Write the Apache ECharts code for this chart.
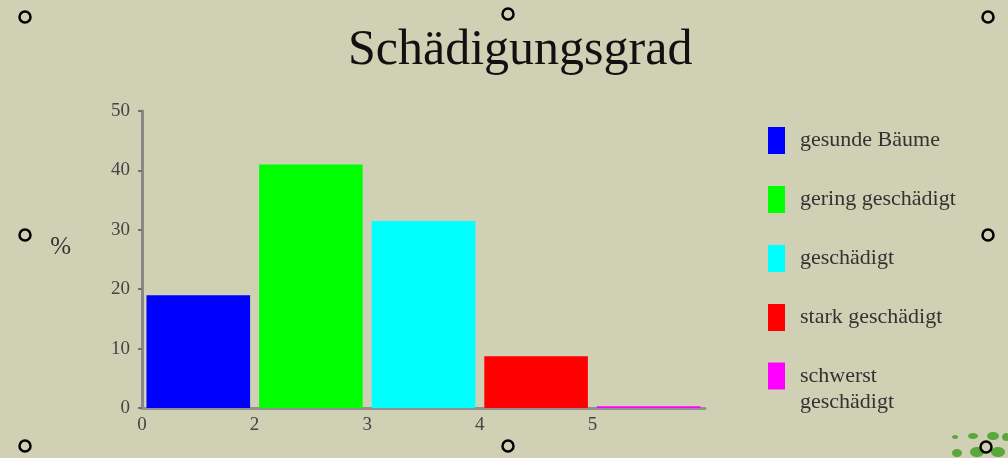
<!DOCTYPE html>
<html>
<head>
<meta charset="utf-8">
<script src="https://cdn.jsdelivr.net/npm/echarts@6/dist/echarts.min.js"></script>
<style>
  html, body { margin: 0; padding: 0; background: #d0d0b4; }
  #chart { width: 1008px; height: 458px; }
</style>
</head>
<body>
<div id="chart"></div>
<script>
// Schädigungsgrad - Anteil der Bäume je Schadstufe (%)
var categories = ['gesunde Bäume', 'gering geschädigt', 'geschädigt', 'stark geschädigt', 'schwerst\ngeschädigt'];
var values = [19, 41, 31.5, 8.7, 0.3];
var xTickLabels = ['0', '2', '3', '4', '5', ''];
var barColors = ['#0000ff', '#00ff00', '#00ffff', '#ff0000', '#ff00ff'];

var serif = '"Liberation Serif", "DejaVu Serif", serif';
var myChart = echarts.init(document.getElementById('chart'));

var series = [];
for (var i = 0; i < categories.length; i++) {
	series.push({
		name: categories[i],
		type: 'bar',
		stack: 'all',
		barCategoryGap: '8%',
		itemStyle: { color: barColors[i] },
		data: values.map(function (v, j) { return j === i ? v : '-'; })
	});
}

// kleine Markierungspunkte (Auswahlrahmen) und Blätter unten rechts
var handles = [[25, 17], [508, 14], [988, 17], [25, 235], [988, 235], [25, 446], [508, 446], [986, 447]];
var graphics = handles.map(function (p) {
	return {
		type: 'circle',
		shape: { cx: p[0], cy: p[1], r: 5.5 },
		style: { fill: 'none', stroke: '#000', lineWidth: 2.5 },
		z: 100
	};
});
var leaves = [[955, 437, 3, 2], [973, 436, 5, 3], [993, 436, 6, 4], [1006, 437, 4, 4], [957, 453, 5, 4], [977, 452, 7, 5], [998, 452, 7, 5]];
leaves.forEach(function (l) {
	graphics.push({
		type: 'ellipse',
		shape: { cx: l[0], cy: l[1], rx: l[2], ry: l[3] },
		style: { fill: '#5aa83c' },
		z: 90
	});
});

var legendBase = {
	orient: 'vertical',
	left: 768,
	padding: 0,
	icon: 'rect',
	itemWidth: 17,
	itemHeight: 27,
	itemGap: 32,
	selectedMode: false,
	textStyle: { fontFamily: serif, fontSize: 22, color: '#333', padding: [0, 0, 0, 10] }
};
// zwei Legenden: die letzte, zweizeilige Beschriftung beginnt auf Höhe des Kästchens
var legend1 = Object.assign({}, legendBase, { top: 127, data: categories.slice(0, 4) });
var legend2 = Object.assign({}, legendBase, {
	top: 337,
	itemGap: 0,
	data: [{ name: categories[4], textStyle: { lineHeight: 26 } }],
	formatter: function (name) { return '\n' + name; }
});

var option = {
	backgroundColor: '#d0d0b4',
	animation: false,
	title: {
		text: 'Schädigungsgrad',
		left: 343,
		top: 21,
		textStyle: { fontFamily: serif, fontSize: 50, fontWeight: 'normal', color: '#111' }
	},
	legend: [legend1, legend2],
	grid: { left: 142, right: 303, top: 111, bottom: 50 },
	xAxis: [
		{
			type: 'category',
			data: categories,
			axisLine: { lineStyle: { color: '#909090', width: 3 } },
			axisTick: { length: 5, lineStyle: { color: '#707070', width: 2 } },
			axisLabel: { show: false }
		},
		{
			type: 'value',
			min: 0,
			max: 5,
			interval: 1,
			position: 'bottom',
			axisLine: { show: false },
			axisTick: { show: false },
			splitLine: { show: false },
			axisLabel: {
				margin: 8,
				fontFamily: serif,
				fontSize: 19,
				color: '#444',
				formatter: function (v) { return xTickLabels[v]; }
			}
		}
	],
	yAxis: {
		type: 'value',
		min: 0,
		max: 50,
		interval: 10,
		name: '%',
		nameLocation: 'middle',
		nameRotate: 0,
		nameGap: 71,
		nameTextStyle: { fontFamily: serif, fontSize: 25, color: '#333', verticalAlign: 'bottom' },
		axisLine: { show: true, lineStyle: { color: '#888', width: 3 } },
		axisTick: { show: true, length: 4, lineStyle: { color: '#707070', width: 2 } },
		splitLine: { show: false },
		axisLabel: { margin: 12, fontFamily: serif, fontSize: 19, color: '#444' }
	},
	graphic: graphics,
	series: series
};

myChart.setOption(option);
</script>
</body>
</html>
